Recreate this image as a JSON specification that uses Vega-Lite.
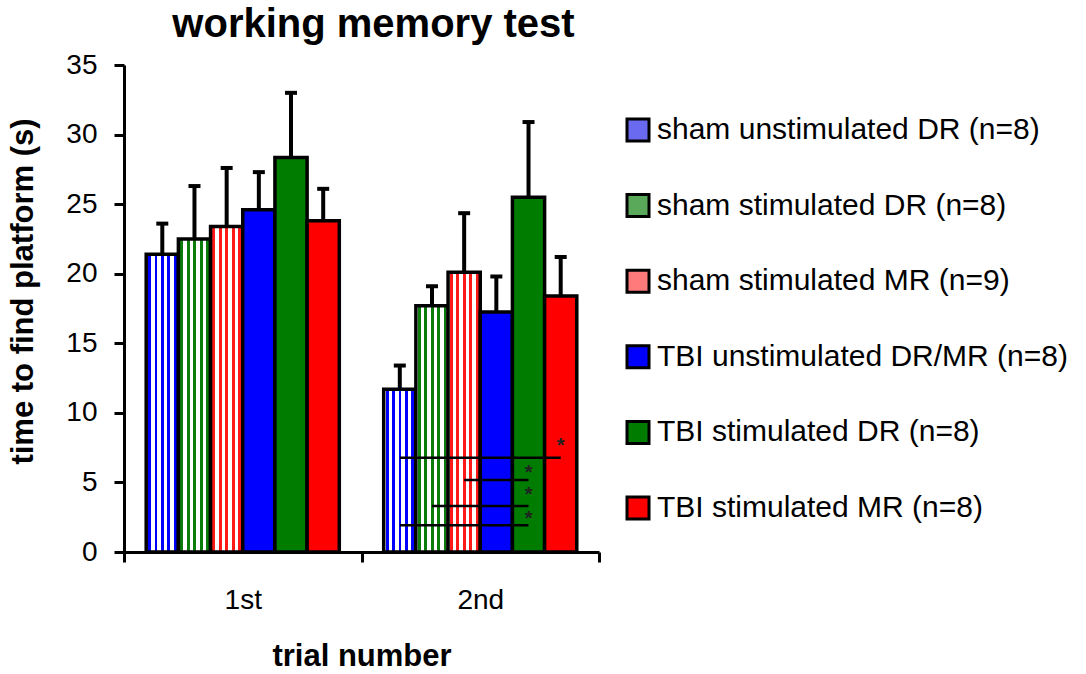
{
  "$schema": "https://vega.github.io/schema/vega-lite/v6.json",
  "width": 475,
  "height": 487,
  "autosize": {"type": "none"},
  "padding": {"left": 124, "top": 65, "right": 487, "bottom": 122},
  "background": "white",
  "title": {"text": "working memory test", "fontSize": 40, "fontWeight": "bold", "font": "Liberation Sans", "color": "black", "anchor": "middle", "dx": 12, "offset": 6},
  "config": {"view": {"stroke": null}, "font": "Liberation Sans"},
  "datasets": {
    "bars": [
      {"trial": "1st", "series": "sham unstimulated DR (n=8)", "value": 21.4, "upper": 23.6},
      {"trial": "1st", "series": "sham stimulated DR (n=8)", "value": 22.5, "upper": 26.3},
      {"trial": "1st", "series": "sham stimulated MR (n=9)", "value": 23.4, "upper": 27.6},
      {"trial": "1st", "series": "TBI unstimulated DR/MR (n=8)", "value": 24.6, "upper": 27.3},
      {"trial": "1st", "series": "TBI stimulated DR (n=8)", "value": 28.35, "upper": 33.0},
      {"trial": "1st", "series": "TBI stimulated MR (n=8)", "value": 23.8, "upper": 26.1},
      {"trial": "2nd", "series": "sham unstimulated DR (n=8)", "value": 11.7, "upper": 13.4},
      {"trial": "2nd", "series": "sham stimulated DR (n=8)", "value": 17.7, "upper": 19.1},
      {"trial": "2nd", "series": "sham stimulated MR (n=9)", "value": 20.1, "upper": 24.35},
      {"trial": "2nd", "series": "TBI unstimulated DR/MR (n=8)", "value": 17.25, "upper": 19.8},
      {"trial": "2nd", "series": "TBI stimulated DR (n=8)", "value": 25.5, "upper": 30.9},
      {"trial": "2nd", "series": "TBI stimulated MR (n=8)", "value": 18.4, "upper": 21.2}
    ],
    "sig": [
      {"comparison": "c1", "trial": "2nd", "series": "sham unstimulated DR (n=8)", "y": 6.78},
      {"comparison": "c1", "trial": "2nd", "series": "TBI stimulated MR (n=8)", "y": 6.78},
      {"comparison": "c2", "trial": "2nd", "series": "sham stimulated MR (n=9)", "y": 5.18},
      {"comparison": "c2", "trial": "2nd", "series": "TBI stimulated DR (n=8)", "y": 5.18},
      {"comparison": "c3", "trial": "2nd", "series": "sham stimulated DR (n=8)", "y": 3.31},
      {"comparison": "c3", "trial": "2nd", "series": "TBI stimulated DR (n=8)", "y": 3.31},
      {"comparison": "c4", "trial": "2nd", "series": "sham unstimulated DR (n=8)", "y": 1.92},
      {"comparison": "c4", "trial": "2nd", "series": "TBI stimulated DR (n=8)", "y": 1.92}
    ],
    "stars": [
      {"trial": "2nd", "series": "TBI stimulated MR (n=8)", "y": 7.93, "label": "*"},
      {"trial": "2nd", "series": "TBI stimulated DR (n=8)", "y": 6.0, "label": "*"},
      {"trial": "2nd", "series": "TBI stimulated DR (n=8)", "y": 4.4, "label": "*"},
      {"trial": "2nd", "series": "TBI stimulated DR (n=8)", "y": 2.66, "label": "*"}
    ]
  },
  "layer": [
    {
      "data": {"name": "bars"},
      "mark": {"type": "bar", "stroke": "black", "strokeWidth": 3.5},
      "encoding": {
        "x": {"field": "trial", "type": "nominal", "title": "trial number",
          "scale": {"domain": ["1st", "2nd"], "paddingInner": 0, "paddingOuter": 0},
          "axis": {"labelAngle": 0, "grid": false, "domainColor": "black", "domainWidth": 3, "tickColor": "black", "tickWidth": 3, "tickSize": 10, "tickBand": "extent", "labelFont": "Liberation Sans", "labelFontSize": 28, "labelColor": "black", "labelPadding": 24, "titleFont": "Liberation Sans", "titleFontSize": 31, "titleFontWeight": "bold", "titleColor": "black", "titleY": 113, "titleBaseline": "alphabetic"}},
        "xOffset": {"field": "series", "type": "nominal",
          "scale": {"domain": ["sham unstimulated DR (n=8)", "sham stimulated DR (n=8)", "sham stimulated MR (n=9)", "TBI unstimulated DR/MR (n=8)", "TBI stimulated DR (n=8)", "TBI stimulated MR (n=8)"], "paddingInner": 0, "paddingOuter": 0.69}},
        "y": {"field": "value", "type": "quantitative", "title": "time to find platform (s)",
          "scale": {"domain": [0, 35], "nice": false, "zero": true},
          "axis": {"values": [0, 5, 10, 15, 20, 25, 30, 35], "grid": false, "domainColor": "black", "domainWidth": 3, "tickColor": "black", "tickWidth": 3, "tickSize": 10, "labelFont": "Liberation Sans", "labelFontSize": 28, "labelColor": "black", "labelPadding": 17, "titleFont": "Liberation Sans", "titleFontSize": 31, "titleFontWeight": "bold", "titleColor": "black", "titleX": -92, "titleY": 226, "titleAngle": 270, "titleBaseline": "alphabetic", "titleAlign": "center"}},
        "fill": {"field": "series", "type": "nominal",
          "scale": {"domain": ["sham unstimulated DR (n=8)", "sham stimulated DR (n=8)", "sham stimulated MR (n=9)", "TBI unstimulated DR/MR (n=8)", "TBI stimulated DR (n=8)", "TBI stimulated MR (n=8)"], "range": ["#6a6af0", "#5aa85a", "#ff7a7a", "#0000ff", "#007d00", "#ff0000"]},
          "legend": {"orient": "none", "legendX": 499, "legendY": 50, "title": null, "padding": 0, "symbolType": "square", "symbolSize": 484, "symbolStrokeColor": "black", "symbolStrokeWidth": 3, "labelFont": "Liberation Sans", "labelFontSize": 30, "labelColor": "black", "labelLimit": 700, "rowPadding": 41.6, "labelOffset": 4},
          "condition": [
            {"test": "datum.series === 'sham unstimulated DR (n=8)'", "value": {"gradient": "linear", "x1": 0, "y1": 0, "x2": 1, "y2": 0, "stops": [
              {"offset": 0, "color": "#ffffff"}, {"offset": 0.06, "color": "#ffffff"}, {"offset": 0.06, "color": "#0000ff"}, {"offset": 0.15, "color": "#0000ff"}, {"offset": 0.15, "color": "#ffffff"},
              {"offset": 0.26, "color": "#ffffff"}, {"offset": 0.26, "color": "#0000ff"}, {"offset": 0.35, "color": "#0000ff"}, {"offset": 0.35, "color": "#ffffff"},
              {"offset": 0.46, "color": "#ffffff"}, {"offset": 0.46, "color": "#0000ff"}, {"offset": 0.55, "color": "#0000ff"}, {"offset": 0.55, "color": "#ffffff"},
              {"offset": 0.66, "color": "#ffffff"}, {"offset": 0.66, "color": "#0000ff"}, {"offset": 0.75, "color": "#0000ff"}, {"offset": 0.75, "color": "#ffffff"},
              {"offset": 0.86, "color": "#ffffff"}, {"offset": 0.86, "color": "#0000ff"}, {"offset": 0.95, "color": "#0000ff"}, {"offset": 0.95, "color": "#ffffff"}, {"offset": 1, "color": "#ffffff"}]}},
            {"test": "datum.series === 'sham stimulated DR (n=8)'", "value": {"gradient": "linear", "x1": 0, "y1": 0, "x2": 1, "y2": 0, "stops": [
              {"offset": 0, "color": "#ffffff"}, {"offset": 0.06, "color": "#ffffff"}, {"offset": 0.06, "color": "#0a7d0a"}, {"offset": 0.15, "color": "#0a7d0a"}, {"offset": 0.15, "color": "#ffffff"},
              {"offset": 0.26, "color": "#ffffff"}, {"offset": 0.26, "color": "#0a7d0a"}, {"offset": 0.35, "color": "#0a7d0a"}, {"offset": 0.35, "color": "#ffffff"},
              {"offset": 0.46, "color": "#ffffff"}, {"offset": 0.46, "color": "#0a7d0a"}, {"offset": 0.55, "color": "#0a7d0a"}, {"offset": 0.55, "color": "#ffffff"},
              {"offset": 0.66, "color": "#ffffff"}, {"offset": 0.66, "color": "#0a7d0a"}, {"offset": 0.75, "color": "#0a7d0a"}, {"offset": 0.75, "color": "#ffffff"},
              {"offset": 0.86, "color": "#ffffff"}, {"offset": 0.86, "color": "#0a7d0a"}, {"offset": 0.95, "color": "#0a7d0a"}, {"offset": 0.95, "color": "#ffffff"}, {"offset": 1, "color": "#ffffff"}]}},
            {"test": "datum.series === 'sham stimulated MR (n=9)'", "value": {"gradient": "linear", "x1": 0, "y1": 0, "x2": 1, "y2": 0, "stops": [
              {"offset": 0, "color": "#ffffff"}, {"offset": 0.06, "color": "#ffffff"}, {"offset": 0.06, "color": "#ff1a1a"}, {"offset": 0.15, "color": "#ff1a1a"}, {"offset": 0.15, "color": "#ffffff"},
              {"offset": 0.26, "color": "#ffffff"}, {"offset": 0.26, "color": "#ff1a1a"}, {"offset": 0.35, "color": "#ff1a1a"}, {"offset": 0.35, "color": "#ffffff"},
              {"offset": 0.46, "color": "#ffffff"}, {"offset": 0.46, "color": "#ff1a1a"}, {"offset": 0.55, "color": "#ff1a1a"}, {"offset": 0.55, "color": "#ffffff"},
              {"offset": 0.66, "color": "#ffffff"}, {"offset": 0.66, "color": "#ff1a1a"}, {"offset": 0.75, "color": "#ff1a1a"}, {"offset": 0.75, "color": "#ffffff"},
              {"offset": 0.86, "color": "#ffffff"}, {"offset": 0.86, "color": "#ff1a1a"}, {"offset": 0.95, "color": "#ff1a1a"}, {"offset": 0.95, "color": "#ffffff"}, {"offset": 1, "color": "#ffffff"}]}}
          ]}
      }
    },
    {
      "data": {"name": "bars"},
      "mark": {"type": "rule", "color": "black", "strokeWidth": 4},
      "encoding": {
        "x": {"field": "trial", "type": "nominal", "title": "trial number"},
        "xOffset": {"field": "series", "type": "nominal"},
        "y": {"field": "value", "type": "quantitative", "title": "time to find platform (s)"},
        "y2": {"field": "upper"}
      }
    },
    {
      "data": {"name": "bars"},
      "mark": {"type": "tick", "color": "black", "opacity": 1, "thickness": 4, "size": 12},
      "encoding": {
        "x": {"field": "trial", "type": "nominal", "title": "trial number"},
        "xOffset": {"field": "series", "type": "nominal"},
        "y": {"field": "upper", "type": "quantitative", "title": "time to find platform (s)"}
      }
    },
    {
      "data": {"name": "sig"},
      "mark": {"type": "line", "color": "black", "strokeWidth": 2.5},
      "encoding": {
        "x": {"field": "trial", "type": "nominal", "title": "trial number"},
        "xOffset": {"field": "series", "type": "nominal"},
        "y": {"field": "y", "type": "quantitative", "title": "time to find platform (s)"},
        "detail": {"field": "comparison", "type": "nominal"}
      }
    },
    {
      "data": {"name": "stars"},
      "mark": {"type": "text", "color": "#222222", "fontSize": 20, "fontWeight": "bold", "font": "Liberation Sans", "baseline": "middle", "dy": 4, "dx": 0},
      "encoding": {
        "x": {"field": "trial", "type": "nominal", "title": "trial number"},
        "xOffset": {"field": "series", "type": "nominal"},
        "y": {"field": "y", "type": "quantitative", "title": "time to find platform (s)"},
        "text": {"field": "label"}
      }
    }
  ]
}
